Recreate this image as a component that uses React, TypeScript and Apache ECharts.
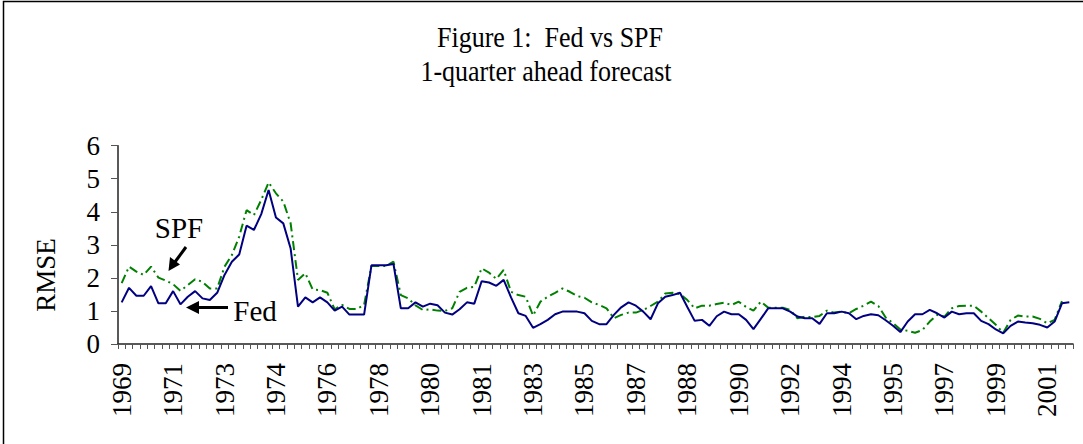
import React, { useEffect, useRef } from "react";
import * as echarts from "echarts";

// Quarterly observations from 1969Q3 to 2001Q4; each category is labelled by its year
const categories: string[] = [
  "1969", "1969",
  "1970", "1970", "1970", "1970",
  "1971", "1971", "1971", "1971",
  "1972", "1972", "1972", "1972",
  "1973", "1973", "1973", "1973",
  "1974", "1974", "1974", "1974",
  "1975", "1975", "1975", "1975",
  "1976", "1976", "1976", "1976",
  "1977", "1977", "1977", "1977",
  "1978", "1978", "1978", "1978",
  "1979", "1979", "1979", "1979",
  "1980", "1980", "1980", "1980",
  "1981", "1981", "1981", "1981",
  "1982", "1982", "1982", "1982",
  "1983", "1983", "1983", "1983",
  "1984", "1984", "1984", "1984",
  "1985", "1985", "1985", "1985",
  "1986", "1986", "1986", "1986",
  "1987", "1987", "1987", "1987",
  "1988", "1988", "1988", "1988",
  "1989", "1989", "1989", "1989",
  "1990", "1990", "1990", "1990",
  "1991", "1991", "1991", "1991",
  "1992", "1992", "1992", "1992",
  "1993", "1993", "1993", "1993",
  "1994", "1994", "1994", "1994",
  "1995", "1995", "1995", "1995",
  "1996", "1996", "1996", "1996",
  "1997", "1997", "1997", "1997",
  "1998", "1998", "1998", "1998",
  "1999", "1999", "1999", "1999",
  "2000", "2000", "2000", "2000",
  "2001", "2001", "2001", "2001",
];

const fedRmse: (number | null)[] = [
  1.26, 1.70, 1.46, 1.46, 1.75, 1.23, 1.23, 1.60, 1.20, 1.43,
  1.60, 1.38, 1.33, 1.55, 2.09, 2.49, 2.71, 3.58, 3.45, 3.93,
  4.66, 3.83, 3.65, 2.89, 1.13, 1.41, 1.26, 1.41, 1.26, 1.01,
  1.13, 0.89, 0.89, 0.89, 2.38, 2.38, 2.38, 2.42, 1.08, 1.08,
  1.26, 1.13, 1.22, 1.17, 0.95, 0.89, 1.05, 1.26, 1.22, 1.90,
  1.86, 1.76, 1.94, 1.41, 0.93, 0.85, 0.49, 0.60, 0.73, 0.90,
  0.98, 0.98, 0.98, 0.93, 0.70, 0.60, 0.60, 0.88, 1.11, 1.26,
  1.16, 0.98, 0.75, 1.23, 1.43, 1.48, 1.55, 1.12, 0.70, 0.73,
  0.55, 0.84, 0.98, 0.90, 0.90, 0.73, 0.45, 0.76, 1.08, 1.08,
  1.08, 0.98, 0.83, 0.78, 0.78, 0.61, 0.93, 0.93, 0.98, 0.93,
  0.75, 0.85, 0.90, 0.87, 0.72, 0.55, 0.36, 0.68, 0.90, 0.90,
  1.03, 0.93, 0.80, 0.98, 0.90, 0.93, 0.93, 0.70, 0.60, 0.44,
  0.32, 0.55, 0.68, 0.65, 0.63, 0.58, 0.50, 0.68, 1.23, 1.26,
];

const spfRmse: (number | null)[] = [
  1.84, 2.34, 2.19, 2.09, 2.34, 2.01, 1.92, 1.81, 1.61, 1.78,
  1.96, 1.88, 1.68, 1.68, 2.34, 2.69, 3.25, 4.05, 3.90, 4.36,
  4.89, 4.56, 4.31, 3.65, 1.94, 2.14, 1.65, 1.63, 1.55, 1.05,
  1.18, 1.06, 1.06, 1.18, 2.36, 2.36, 2.36, 2.49, 1.48, 1.38,
  1.17, 1.03, 1.05, 1.01, 1.00, 1.08, 1.58, 1.70, 1.73, 2.29,
  2.16, 1.97, 2.24, 1.58, 1.48, 1.43, 0.86, 1.28, 1.43, 1.55,
  1.68, 1.58, 1.45, 1.40, 1.26, 1.18, 1.08, 0.78, 0.88, 0.95,
  0.95, 1.03, 1.15, 1.28, 1.53, 1.55, 1.51, 1.33, 1.08, 1.16,
  1.16, 1.21, 1.25, 1.18, 1.28, 1.12, 1.01, 1.28, 1.10, 1.10,
  1.10, 1.03, 0.78, 0.83, 0.81, 0.85, 1.01, 0.95, 0.98, 0.93,
  1.06, 1.16, 1.28, 1.15, 0.80, 0.63, 0.44, 0.40, 0.34, 0.42,
  0.68, 0.88, 0.83, 1.08, 1.15, 1.16, 1.16, 0.98, 0.78, 0.58,
  0.34, 0.73, 0.86, 0.83, 0.83, 0.76, 0.63, 0.73, 1.30, null,
];

const yTicks = [0, 1, 2, 3, 4, 5, 6];
const titleLines = ["Figure 1:  Fed vs SPF", "1-quarter ahead forecast"];
const SERIF = "'Liberation Serif', 'Times New Roman', 'DejaVu Serif', serif";

export default function App() {
  const ref = useRef<HTMLDivElement>(null);

  useEffect(() => {
    document.body.style.margin = "0";
    if (!ref.current) return;
    const chart = echarts.init(ref.current, undefined, { renderer: "svg" });

    const option: any = {
      animation: false,
      backgroundColor: "#ffffff",
      grid: { left: 118, right: 10, top: 145.7, bottom: 100, containLabel: false },
      xAxis: {
        type: "category",
        data: categories,
        boundaryGap: true,
        axisLine: { show: true, lineStyle: { color: "#222", width: 1.5 } },
        axisTick: {
          show: true,
          interval: 0,
          alignWithLabel: false,
          length: 5,
          lineStyle: { color: "#555", width: 1 },
        },
        axisLabel: {
          interval: 6,
          rotate: 90,
          margin: 19,
          color: "#000",
          fontFamily: SERIF,
          fontSize: 27,
        },
        splitLine: { show: false },
      },
      yAxis: {
        type: "value",
        min: yTicks[0],
        max: yTicks[yTicks.length - 1],
        interval: 1,
        axisLine: { show: true, lineStyle: { color: "#222", width: 1.5 } },
        axisTick: { show: true, inside: false, length: 7, lineStyle: { color: "#555", width: 1 } },
        axisLabel: { margin: 18, color: "#000", fontFamily: SERIF, fontSize: 27 },
        splitLine: { show: false },
      },
      series: [
        {
          name: "SPF",
          type: "line",
          data: spfRmse,
          symbol: "none",
          connectNulls: false,
          lineStyle: { color: "#008000", width: 2, type: [9, 4, 2, 4] },
          z: 2,
        },
        {
          name: "Fed",
          type: "line",
          data: fedRmse,
          symbol: "none",
          lineStyle: { color: "#000080", width: 2, type: "solid" },
          z: 3,
        },
      ],
      graphic: [
        {
          type: "rect",
          shape: { x: 3.5, y: 1.5, width: 1100, height: 460 },
          style: { fill: "none", stroke: "#000", lineWidth: 1.5 },
          silent: true,
        },
        {
          type: "text",
          x: 550,
          y: 38,
          scaleY: 1.1,
          style: {
            text: titleLines[0],
            font: `26px ${SERIF}`,
            fill: "#000",
            align: "center",
            verticalAlign: "middle",
          },
        },
        {
          type: "text",
          x: 546,
          y: 72,
          scaleY: 1.1,
          style: {
            text: titleLines[1],
            font: `26px ${SERIF}`,
            fill: "#000",
            align: "center",
            verticalAlign: "middle",
          },
        },
        {
          type: "text",
          x: 46,
          y: 275,
          rotation: Math.PI / 2,
          style: {
            text: "RMSE",
            font: `27px ${SERIF}`,
            fill: "#000",
            align: "center",
            verticalAlign: "middle",
          },
        },
        {
          type: "text",
          x: 179,
          y: 228,
          style: {
            text: "SPF",
            font: `29px ${SERIF}`,
            fill: "#000",
            align: "center",
            verticalAlign: "middle",
          },
        },
        {
          type: "line",
          shape: { x1: 186, y1: 247, x2: 175, y2: 262 },
          style: { stroke: "#000", lineWidth: 3 },
        },
        {
          type: "polygon",
          shape: { points: [[168.5, 271], [170, 257], [180, 264.5]] },
          style: { fill: "#000" },
        },
        {
          type: "text",
          x: 255,
          y: 311,
          style: {
            text: "Fed",
            font: `29px ${SERIF}`,
            fill: "#000",
            align: "center",
            verticalAlign: "middle",
          },
        },
        {
          type: "line",
          shape: { x1: 228, y1: 307.5, x2: 196, y2: 307.5 },
          style: { stroke: "#000", lineWidth: 3 },
        },
        {
          type: "polygon",
          shape: { points: [[186, 307.5], [199, 301], [199, 314]] },
          style: { fill: "#000" },
        },
      ],
    };

    chart.setOption(option);
    return () => chart.dispose();
  }, []);

  return <div ref={ref} style={{ width: 1083, height: 444 }} />;
}
